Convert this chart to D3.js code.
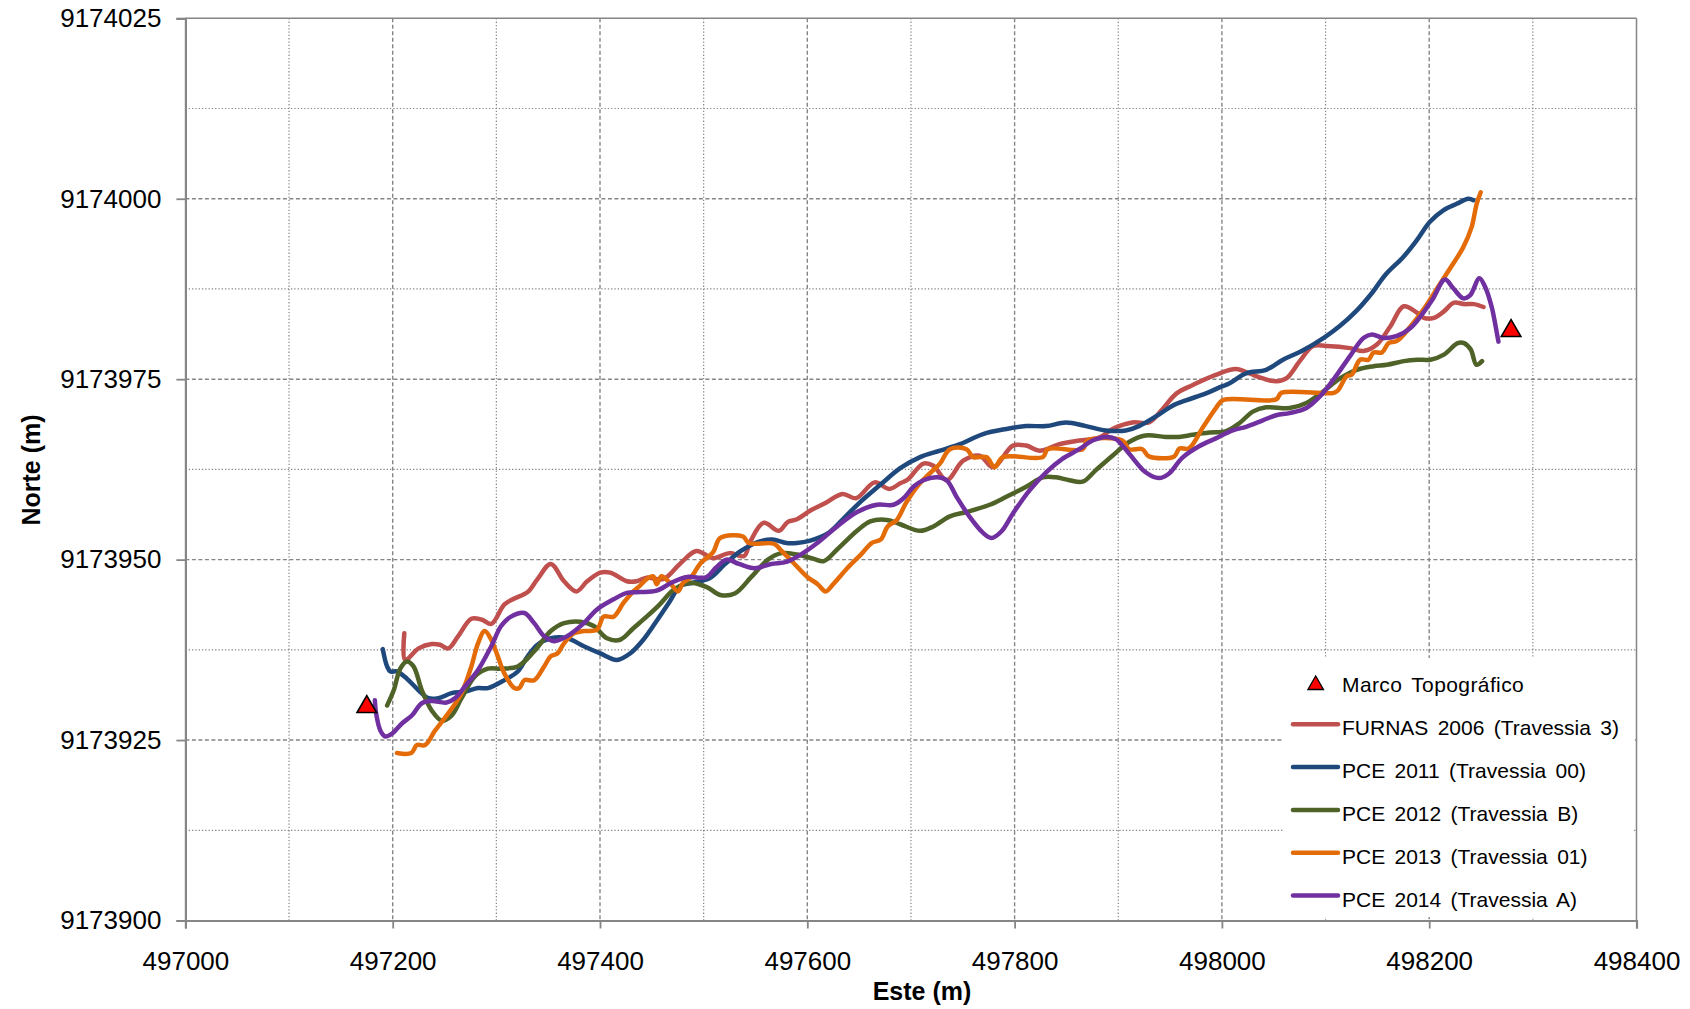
<!DOCTYPE html>
<html>
<head>
<meta charset="utf-8">
<script src="https://cdn.jsdelivr.net/npm/d3@7"></script>
<style>
  html, body { margin: 0; padding: 0; background: #ffffff; }
  svg { display: block; font-family: "Liberation Sans", Arial, sans-serif; }
</style>
</head>
<body>
<svg id="chart" width="1690" height="1009"></svg>
<script>
// ---------------- DATA ----------------
const xTicks = [497000, 497200, 497400, 497600, 497800, 498000, 498200, 498400];
const yTicks = [9173900, 9173925, 9173950, 9173975, 9174000, 9174025];
const xTitle = "Este (m)";
const yTitle = "Norte (m)";

const marcoTopografico = [[497175, 9173929.6], [498279, 9173981.7]];

const furnas2006 = [
[497211.2,9173939.8],[497212,9173936.1],[497225,9173937.7],[497237.6,9173938.3],[497245.6,9173938.2],
[497253.6,9173937.7],[497263.2,9173939.4],[497275.9,9173941.8],[497285.5,9173941.7],[497295.1,9173941.1],
[497307.8,9173943.8],[497317.4,9173944.6],[497330.2,9173945.5],[497339.7,9173947.3],[497352.5,9173949.4],
[497365.3,9173947.0],[497377.4,9173945.6],[497387.6,9173947.0],[497400.3,9173948.2],[497409.9,9173948.2],
[497425.9,9173947.0],[497435.4,9173947.0],[497445,9173947.5],[497461,9173947.3],[497477,9173949.4],
[497493,9173951.2],[497509,9173950.2],[497525,9173950.9],[497539,9173950.5],[497545,9173952.5],
[497558,9173955.1],[497572.6,9173954.0],[497581,9173955.2],[497590,9173955.6],[497603,9173956.8],
[497617,9173957.8],[497634,9173959.1],[497647,9173958.5],[497665,9173960.7],[497679,9173959.8],
[497690,9173960.6],[497697,9173961.1],[497712,9173963.3],[497721.6,9173963.0],[497734.4,9173961.0],
[497750.4,9173963.7],[497766.4,9173964.4],[497779.2,9173962.8],[497798.4,9173965.8],[497811.2,9173965.8],
[497824,9173965.1],[497843.2,9173966.0],[497862.4,9173966.5],[497881.6,9173966.9],[497894.4,9173968.1],
[497913.6,9173969.0],[497929.6,9173969.0],[497942.4,9173970.8],[497956,9173973.0],[497972,9173974.2],
[497994,9173975.6],[498013.6,9173976.4],[498026.5,9173975.8],[498039.5,9173975.1],[498052.4,9173974.7],
[498062.1,9173975.1],[498075.1,9173977.5],[498088,9173979.6],[498101,9173979.6],[498123.6,9173979.3],
[498136.6,9173978.9],[498149.5,9173979.8],[498162.4,9173982.3],[498175.4,9173985.1],[498188.3,9173984.2],
[498194.8,9173983.5],[498204.5,9173983.5],[498214.2,9173984.4],[498223.9,9173985.6],[498233.6,9173985.4],
[498243.3,9173985.4],[498252.4,9173985.0]
];

const pce2011 = [
[497190.4,9173937.6],[497194.6,9173935.2],[497197.8,9173934.5],[497204.1,9173934.5],[497213.7,9173933.5],
[497224.9,9173931.9],[497234.5,9173930.8],[497244,9173930.8],[497256.8,9173931.5],[497269.5,9173931.7],
[497282.3,9173932.2],[497291.9,9173932.2],[497307.8,9173933.3],[497320.6,9173934.5],[497330.2,9173936.6],
[497339.7,9173938.2],[497352.5,9173939.1],[497368.4,9173939.1],[497384.4,9173938.0],[497400.3,9173937.0],
[497416.3,9173936.1],[497429,9173937.0],[497441.8,9173938.9],[497454.6,9173941.5],[497467.3,9173944.2],
[497477,9173946.3],[497489.7,9173946.8],[497505.6,9173947.4],[497520,9173949.3],[497536,9173951.2],
[497553.5,9173952.5],[497566.2,9173952.8],[497580,9173952.3],[497590,9173952.3],[497602,9173952.6],
[497619.3,9173953.6],[497633,9173955.4],[497649,9173957.7],[497670.7,9173960.4],[497690,9173962.7],
[497708.8,9173964.2],[497728,9173965.1],[497747.2,9173966.0],[497769.6,9173967.4],[497792,9173968.1],
[497811.2,9173968.5],[497830.4,9173968.5],[497849.6,9173969.0],[497868.8,9173968.5],[497888,9173967.9],
[497907.2,9173967.9],[497920,9173968.5],[497939.2,9173970.1],[497952,9173971.3],[497966,9173972.1],
[497984,9173973.0],[498000,9173974.0],[498007,9173974.4],[498023.3,9173975.8],[498042.7,9173976.3],
[498058.9,9173977.7],[498077,9173978.9],[498099,9173980.8],[498114,9173982.4],[498130,9173984.5],
[498144,9173986.8],[498158,9173989.5],[498174.8,9173991.9],[498187.8,9173994.2],[498200.7,9173996.8],
[498213.6,9173998.4],[498226.5,9173999.3],[498237.8,9174000.0],[498242.6,9173999.8]
];

const pce2012 = [
[497194.6,9173929.8],[497201,9173931.9],[497207.3,9173934.9],[497213.7,9173935.9],[497220.1,9173935.2],
[497228.1,9173931.9],[497237.6,9173929.1],[497247.2,9173927.7],[497256.8,9173928.4],[497266.4,9173930.8],
[497279.1,9173933.8],[497291.9,9173934.9],[497304.6,9173934.9],[497320.6,9173935.2],[497336.5,9173937.3],
[497352.5,9173940.1],[497365.3,9173941.2],[497381.2,9173941.4],[497394,9173940.8],[497406.7,9173939.1],
[497419.5,9173938.9],[497432.2,9173940.5],[497445,9173942.1],[497457,9173943.7],[497471,9173945.8],
[497486,9173946.8],[497503,9173946.2],[497516,9173945.1],[497530,9173945.3],[497546,9173947.6],
[497562,9173950.0],[497575,9173950.9],[497590.4,9173950.7],[497606.4,9173950.1],[497616,9173949.8],
[497628.8,9173951.4],[497648,9173954.0],[497660.8,9173955.3],[497676.8,9173955.5],[497689.6,9173954.9],
[497708.8,9173954.0],[497721.6,9173954.6],[497737.6,9173956.0],[497753.6,9173956.6],[497776,9173957.6],
[497792,9173958.7],[497811.2,9173960.1],[497827.2,9173961.4],[497840,9173961.4],[497852.8,9173961.0],
[497865.6,9173960.8],[497878.4,9173962.4],[497894.4,9173964.4],[497910.4,9173966.3],[497926.4,9173967.2],
[497945.6,9173967.0],[497958.5,9173967.0],[497972,9173967.3],[497988,9173967.6],[498004,9173967.8],
[498016.8,9173968.9],[498029.8,9173970.5],[498042.7,9173971.1],[498065.4,9173971.0],[498081.5,9173971.7],
[498097.7,9173973.3],[498113.9,9173975.1],[498130.1,9173976.3],[498146.3,9173976.8],[498159.2,9173977.0],
[498175.4,9173977.5],[498188.3,9173977.7],[498201.3,9173977.7],[498214.2,9173978.4],[498227.5,9173980.0],
[498233.6,9173980.0],[498240.1,9173979.1],[498245.5,9173977.0],[498251,9173977.5]
];

const pce2013 = [
[497204.1,9173923.2],[497217.9,9173923.2],[497223.3,9173924.3],[497231.3,9173924.3],[497240.8,9173926.3],
[497253.6,9173928.7],[497266.4,9173931.5],[497275.9,9173935.2],[497282.3,9173938.4],[497288.7,9173940.1],
[497295.1,9173938.9],[497301.4,9173936.6],[497307.8,9173934.2],[497317.4,9173932.2],[497322.2,9173932.2],
[497327,9173933.3],[497336.5,9173933.3],[497346.1,9173935.2],[497352.5,9173936.6],[497358.9,9173937.0],
[497365.3,9173938.4],[497374.8,9173939.8],[497384.4,9173940.1],[497397.1,9173940.3],[497403.5,9173942.1],
[497413.1,9173942.1],[497422.6,9173944.0],[497432.2,9173945.6],[497438.6,9173946.4],[497445,9173947.3],
[497451.4,9173947.7],[497454.6,9173946.6],[497459.3,9173947.7],[497467.3,9173946.8],[497475.3,9173945.6],
[497480.1,9173946.8],[497488,9173947.6],[497497,9173949.5],[497509,9173951.0],[497516.1,9173953.0],
[497538,9173953.2],[497543.5,9173952.3],[497567.7,9173952.2],[497574,9173951.4],[497587,9173949.5],
[497600,9173947.6],[497610,9173946.6],[497617.6,9173945.6],[497625.6,9173946.7],[497638.5,9173948.8],
[497653,9173950.9],[497662,9173952.3],[497671,9173952.8],[497677.5,9173954.6],[497686.4,9173955.5],
[497695,9173957.8],[497707,9173960.3],[497720,9173962.2],[497728,9173963.3],[497737.6,9173965.3],
[497753.6,9173965.3],[497760,9173964.2],[497772.8,9173964.2],[497780.8,9173962.8],[497788.8,9173964.2],
[497827.2,9173964.2],[497832,9173965.3],[497865.6,9173965.3],[497870.4,9173966.5],[497904,9173966.5],
[497910.4,9173965.3],[497923.2,9173965.3],[497929.6,9173964.3],[497954,9173964.3],[497959,9173965.4],
[497968,9173965.4],[497982,9173968.4],[497994.2,9173971.0],[498001,9173972.1],[498052.4,9173972.2],
[498057.3,9173973.1],[498108,9173973.1],[498112.3,9173973.5],[498120.4,9173975.4],[498125.2,9173975.6],
[498133.3,9173977.7],[498141.4,9173977.7],[498146.3,9173978.7],[498154.4,9173978.7],[498160.8,9173980.0],
[498168.9,9173980.3],[498181.9,9173982.3],[498194.8,9173984.7],[498206,9173987.2],[498216.8,9173989.6],
[498232.9,9173993.3],[498241,9173996.1],[498245.8,9173999.3],[498249.7,9174000.9]
];

const pce2014 = [
[497182.8,9173930.5],[497184,9173928.7],[497188.2,9173926.3],[497193,9173925.5],[497199.4,9173925.9],
[497208.9,9173927.3],[497218.5,9173928.4],[497228.1,9173930.1],[497237.6,9173930.4],[497252,9173930.2],
[497260,9173930.8],[497269.5,9173932.4],[497282.3,9173934.7],[497295.1,9173938.0],[497304.6,9173940.8],
[497314.2,9173942.1],[497327,9173942.6],[497336.5,9173941.2],[497346.1,9173939.4],[497355.7,9173938.7],
[497368.4,9173939.4],[497384.4,9173941.2],[497397.1,9173943.1],[497413.1,9173944.5],[497425.9,9173945.4],
[497438.6,9173945.5],[497454.6,9173945.7],[497469,9173946.8],[497484,9173947.6],[497495,9173947.5],
[497503,9173947.6],[497512,9173948.9],[497522,9173950.0],[497534,9173949.4],[497549,9173948.8],
[497565,9173949.4],[497580,9173949.7],[497593.6,9173950.7],[497609.6,9173952.3],[497628.8,9173954.6],
[497648,9173956.6],[497667.2,9173957.6],[497683.2,9173957.6],[497692.8,9173958.5],[497702.4,9173960.1],
[497712,9173961.0],[497724.8,9173961.4],[497734.4,9173961.0],[497744,9173958.7],[497756.8,9173955.9],
[497769.6,9173953.7],[497777.6,9173953.0],[497787.2,9173953.9],[497798.4,9173956.4],[497814.4,9173959.6],
[497830.4,9173962.1],[497846.4,9173964.0],[497862.4,9173965.3],[497875.2,9173966.5],[497888,9173967.0],
[497897.6,9173966.7],[497910.4,9173964.7],[497926.4,9173962.1],[497939.2,9173961.3],[497948.8,9173961.9],
[497961.7,9173964.1],[497978,9173965.7],[497994.2,9173966.8],[498010.4,9173967.9],[498023.3,9173968.4],
[498039.5,9173969.3],[498052.4,9173970.0],[498065.4,9173970.3],[498081.5,9173971.0],[498094.5,9173972.6],
[498107.4,9173974.9],[498123.6,9173978.2],[498136.6,9173980.7],[498144.7,9173981.2],[498156,9173980.7],
[498168.9,9173981.0],[498181.9,9173982.1],[498191.6,9173983.7],[498203,9173986.0],[498215.2,9173988.8],
[498223.2,9173987.6],[498232.9,9173986.2],[498239.4,9173986.6],[498248.4,9173989.0],[498253.9,9173987.8],
[498260.3,9173985.0],[498263.6,9173982.7],[498266.8,9173980.2]
];

const seriesNames = ["FURNAS 2006 (Travessia 3)", "PCE 2011 (Travessia 00)", "PCE 2012 (Travessia B)",
                     "PCE 2013 (Travessia 01)", "PCE 2014 (Travessia A)"];
const seriesData = [furnas2006, pce2011, pce2012, pce2013, pce2014];
const seriesColors = ["#C0504D", "#1F497D", "#4F6228", "#E36C09", "#7030A0"];
const markerName = "Marco Topográfico";

// ---------------- CHART ----------------
const svg = d3.select("#chart");
const L = 185.4, R = 1636.5, T = 18.3, B = 920.5;

const x = d3.scaleLinear().domain([497000, 498400]).range([L, R]);
const y = d3.scaleLinear().domain([9173900, 9174025]).range([B, T]);

const gridColor = "#858585";
const grid = svg.append("g");

// vertical gridlines (100 m step)
d3.range(497100, 498400, 100).forEach(v => {
  const major = v % 200 === 0;
  grid.append("line")
    .attr("x1", x(v)).attr("x2", x(v)).attr("y1", T).attr("y2", B)
    .attr("stroke", gridColor).attr("stroke-width", major ? 1.4 : 1.2)
    .attr("stroke-dasharray", major ? "4,2.5" : "1.3,2");
});
// horizontal gridlines (12.5 m step)
d3.range(9173912.5, 9174025, 12.5).forEach(v => {
  const major = Math.abs((v - 9173900) % 25) < 0.001;
  grid.append("line")
    .attr("x1", L).attr("x2", R).attr("y1", y(v)).attr("y2", y(v))
    .attr("stroke", gridColor).attr("stroke-width", major ? 1.4 : 1.2)
    .attr("stroke-dasharray", major ? "4,2.5" : "1.3,2");
});
// top and right frame
grid.append("line").attr("x1", L).attr("x2", R).attr("y1", T).attr("y2", T)
  .attr("stroke", gridColor).attr("stroke-width", 1.5);
grid.append("line").attr("x1", R).attr("x2", R).attr("y1", T).attr("y2", B)
  .attr("stroke", gridColor).attr("stroke-width", 1.5);

// series lines
const line = d3.line()
  .x(d => x(d[0])).y(d => y(d[1]))
  .curve(d3.curveCatmullRom.alpha(0.5));

const linesG = svg.append("g");
seriesData.forEach((data, i) => {
  linesG.append("path")
    .datum(data)
    .attr("d", line)
    .attr("fill", "none")
    .attr("stroke", seriesColors[i])
    .attr("stroke-width", 4.5)
    .attr("stroke-linejoin", "round")
    .attr("stroke-linecap", "round");
});

// marker triangles
const tri = d3.symbol().type(d3.symbolTriangle).size(165);
svg.append("g").selectAll("path")
  .data(marcoTopografico)
  .join("path")
  .attr("d", tri)
  .attr("transform", d => `translate(${x(d[0])},${y(d[1])})`)
  .attr("fill", "#FF0000")
  .attr("stroke", "#000")
  .attr("stroke-width", 1.6);

// axes
const axisColor = "#868686";
const yAxis = svg.append("g")
  .attr("transform", `translate(${L},0)`)
  .call(d3.axisLeft(y).tickValues(yTicks).tickFormat(d3.format("d")).tickSize(9).tickPadding(15));
const xAxis = svg.append("g")
  .attr("transform", `translate(0,${B})`)
  .call(d3.axisBottom(x).tickValues(xTicks).tickFormat(d3.format("d")).tickSize(8).tickPadding(23));

[yAxis, xAxis].forEach(g => {
  g.select(".domain").attr("stroke", axisColor).attr("stroke-width", 2.2);
  g.selectAll(".tick line").attr("stroke", axisColor).attr("stroke-width", 1.8);
  g.selectAll(".tick text").attr("fill", "#000")
    .style("font-family", "'Liberation Sans', Arial, sans-serif")
    .style("font-size", "26px");
});

// axis titles
svg.append("text")
  .attr("x", 922).attr("y", 1000)
  .attr("text-anchor", "middle")
  .style("font-size", "25px").style("font-weight", "bold")
  .text(xTitle);
svg.append("text")
  .attr("transform", "translate(40,470) rotate(-90)")
  .attr("text-anchor", "middle")
  .style("font-size", "25px").style("font-weight", "bold")
  .text(yTitle);

// legend
const leg = svg.append("g");
leg.append("rect")
  .attr("x", 1283).attr("y", 658).attr("width", 350).attr("height", 259)
  .attr("fill", "#fff");
leg.append("path")
  .attr("d", d3.symbol().type(d3.symbolTriangle).size(105))
  .attr("transform", "translate(1315.7,685)")
  .attr("fill", "#FF0000").attr("stroke", "#000").attr("stroke-width", 1.3);
leg.append("text")
  .attr("x", 1342).attr("y", 692)
  .style("font-size", "21px").style("word-spacing", "3px").style("letter-spacing", "0.4px")
  .text(markerName);
seriesNames.forEach((name, i) => {
  const ly = 724.3 + i * 42.8;
  leg.append("line")
    .attr("x1", 1293).attr("x2", 1338).attr("y1", ly).attr("y2", ly)
    .attr("stroke", seriesColors[i]).attr("stroke-width", 4.5).attr("stroke-linecap", "round");
  leg.append("text")
    .attr("x", 1342).attr("y", ly + 11)
    .style("font-size", "21px").style("word-spacing", "3.5px")
    .text(name);
});
</script>
</body>
</html>
